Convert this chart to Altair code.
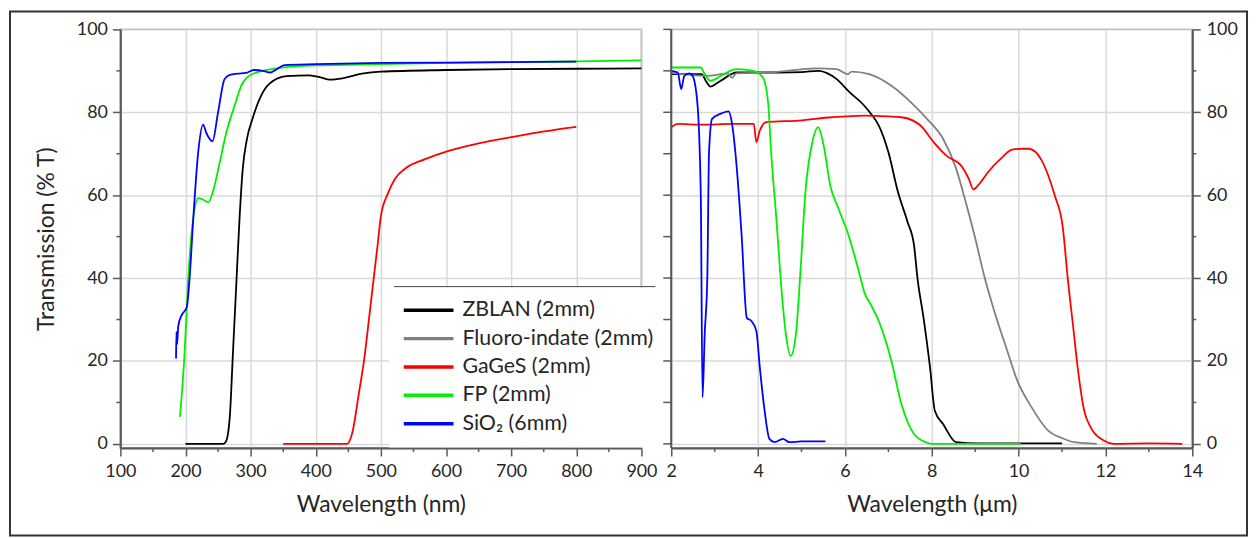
import altair as alt
import pandas as pd

# ---------------- data ----------------
NAMES = ["ZBLAN (2mm)", "Fluoro-indate (2mm)", "GaGeS (2mm)", "FP (2mm)", "SiO₂ (6mm)"]
COLORS = ["#000000", "#808080", "#ff0000", "#00ee00", "#0000ff"]

# left panel, wavelength in nm
zblan_nm = [200, 230, 258, 262, 268, 273, 278, 283, 288, 294, 303, 314, 329, 355, 390, 410, 421, 441, 471, 500, 600, 700, 800, 900]
zblan_nm_T = [0, 0, 0, 0.5, 6.5, 22.5, 38.5, 54.5, 66.5, 73.3, 78.5, 83.3, 86.9, 88.7, 88.9, 88.3, 87.9, 88.2, 89.3, 89.8, 90.2, 90.4, 90.5, 90.6]

gages_nm = [350, 400, 448, 456, 466, 474, 482, 489, 495, 500, 511, 522, 538, 568, 604, 650, 700, 751, 800]
gages_nm_T = [0, 0, 0, 2.6, 12, 20, 30.5, 40, 48, 55, 60.5, 64, 66.5, 68.7, 70.7, 72.5, 74, 75.4, 76.5]

fp_nm = [191.6, 199, 204, 212, 219.6, 227, 235, 242.4, 252.7, 263, 275.6, 285.8, 298.5, 319, 354.5, 400, 500, 600, 700, 800, 900]
fp_nm_T = [6.5, 23, 39.3, 54.5, 59.3, 58.9, 58.3, 61, 68, 75.3, 81.7, 86.5, 88.9, 90, 90.9, 91.3, 91.6, 91.9, 92.1, 92.3, 92.5]

sio2_nm = [185.5, 186, 187, 189, 194, 202, 206, 212, 219.6, 227, 232, 241.5, 250, 260, 268, 280, 293, 305, 319, 330, 339, 352, 400, 500, 600, 700, 800]
sio2_nm_T = [20.6, 27, 24, 28.5, 31, 33, 39.3, 54.5, 70.5, 77, 75, 73, 80, 88, 89, 89.3, 89.5, 90.2, 90, 89.6, 90.3, 91.4, 91.6, 91.9, 92.0, 92.1, 92.2]

# right panel, wavelength in um
zblan_um = [2.0, 2.7, 2.8, 2.9, 3.05, 3.2, 3.5, 4.5, 5.0, 5.4, 5.6, 5.81, 6.11, 6.41, 6.63, 6.78, 7.0, 7.22, 7.44, 7.59, 7.67, 7.81, 7.96, 8.07, 8.26, 8.56, 9.07, 10.0, 11.0]
zblan_um_T = [89.2, 89.2, 87.5, 86.2, 87.0, 88.0, 89.6, 89.6, 89.7, 90.0, 89.4, 88.0, 84.8, 82.0, 79.2, 76.8, 70.4, 60.8, 53.6, 48, 40, 30.4, 18.4, 8, 4.8, 0.4, 0.1, 0.1, 0.1]

fluoro_um = [2.0, 2.8, 3.3, 3.4, 3.5, 4.3, 5.34, 5.81, 6.07, 6.15, 6.56, 7.07, 7.52, 7.89, 8.26, 8.56, 8.78, 9.0, 9.22, 9.44, 9.74, 9.96, 10.3, 10.68, 11.0, 11.28, 11.8]
fluoro_um_T = [89.5, 88.8, 89.3, 88.3, 89.4, 89.6, 90.6, 90.4, 89.2, 89.8, 89.2, 86.4, 82.4, 78.4, 73.6, 66.4, 58.4, 49.6, 40, 32, 22.4, 15.5, 8.8, 3.2, 1.4, 0.4, 0]

gages_um = [2.0, 2.15, 2.68, 3.43, 3.9, 3.96, 4.04, 4.19, 4.94, 5.7, 6.45, 7.0, 7.3, 7.74, 8.04, 8.33, 8.7, 8.85, 8.96, 9.07, 9.3, 9.59, 9.85, 10.1, 10.23, 10.53, 10.68, 10.83, 11.02, 11.13, 11.25, 11.36, 11.51, 11.66, 11.96, 12.19, 13.0, 13.77]
gages_um_T = [76.4, 77.2, 77.0, 77.2, 77.2, 72.8, 75.6, 77.6, 78.0, 78.8, 79.2, 79.0, 78.8, 76.8, 72.8, 69.6, 66.8, 64.0, 61.4, 62.4, 65.6, 68.8, 71.0, 71.2, 71.2, 68.4, 64.8, 60, 52, 40, 28.8, 18.4, 8, 4, 0.8, 0, 0.1, 0]

fp_um = [2.0, 2.68, 2.75, 2.9, 3.21, 3.51, 3.89, 4.11, 4.23, 4.3, 4.42, 4.53, 4.64, 4.75, 4.87, 4.98, 5.09, 5.25, 5.38, 5.51, 5.66, 5.85, 6.08, 6.3, 6.45, 6.6, 6.78, 7.07, 7.3, 7.59, 7.89, 8.0, 10.05]
fp_um_T = [90.8, 90.8, 89.6, 87.6, 89.2, 90.4, 90.0, 88.4, 82.4, 70.4, 54.4, 38.4, 26.4, 21.2, 26.4, 42.4, 60.8, 72.8, 76.4, 72.0, 62.4, 56.8, 50.4, 42.4, 36.5, 33.5, 29.6, 20.0, 9.6, 2.4, 0.3, 0, 0]

sio2_um = [2.0, 2.15, 2.23, 2.3, 2.42, 2.49, 2.6, 2.68, 2.72, 2.77, 2.83, 2.87, 2.94, 3.13, 3.32, 3.4, 3.51, 3.62, 3.74, 3.85, 3.96, 4.04, 4.15, 4.26, 4.38, 4.57, 4.72, 5.0, 5.55]
sio2_um_T = [90, 89.6, 85.6, 88.8, 89.4, 88.8, 82.4, 60, 11.2, 26.4, 40, 70.4, 78.4, 79.6, 80.2, 77.2, 66.4, 50.4, 30.4, 29.6, 27.2, 18.4, 8, 1.2, 0.4, 1.2, 0.4, 0.6, 0.6]

# axis ticks
nm_major = [100, 200, 300, 400, 500, 600, 700, 800, 900]
nm_minor = [150, 250, 350, 450, 550, 650, 750, 850]
um_major = [2, 4, 6, 8, 10, 12, 14]
um_minor = [3, 5, 7, 9, 11, 13]
t_major = [0, 20, 40, 60, 80, 100]
t_minor = [10, 30, 50, 70, 90]
t_all = [0, 10, 20, 30, 40, 50, 60, 70, 80, 90, 100]


def frame(series_list):
    rows = []
    for name, xs, ys in series_list:
        for i, (a, b) in enumerate(zip(xs, ys)):
            rows.append({"series": name, "wl": a, "T": b, "i": i})
    return pd.DataFrame(rows)


left_df = frame([
    (NAMES[0], zblan_nm, zblan_nm_T),
    (NAMES[2], gages_nm, gages_nm_T),
    (NAMES[3], fp_nm, fp_nm_T),
    (NAMES[4], sio2_nm, sio2_nm_T),
])
right_df = frame([
    (NAMES[0], zblan_um, zblan_um_T),
    (NAMES[1], fluoro_um, fluoro_um_T),
    (NAMES[2], gages_um, gages_um_T),
    (NAMES[3], fp_um, fp_um_T),
    (NAMES[4], sio2_um, sio2_um_T),
])

W, H = 524, 421
FONT = "Lato"
DARK = "#595959"

yscale = alt.Scale(domain=[-1, 100], nice=False, zero=False)
xscale_l = alt.Scale(domain=[100, 900], nice=False, zero=False)
xscale_r = alt.Scale(domain=[2, 14], nice=False, zero=False)

xaxis_l = alt.Axis(values=nm_major, title="Wavelength (nm)", labelFlush=False,
                   labelOverlap=False, labelPadding=7, titlePadding=13)
xaxis_r = alt.Axis(values=um_major, title="Wavelength (μm)", labelFlush=False,
                   labelOverlap=False, labelPadding=7, titlePadding=13)
yaxis_l = alt.Axis(values=t_major, title="Transmission (% T)", labelPadding=5,
                   titlePadding=18, labelOverlap=False)
yaxis_r = alt.Axis(values=t_major, title=None, orient="right", labelPadding=6,
                   labelOverlap=False)

one = pd.DataFrame({"a": [0]})

legend = alt.Legend(
    orient="none", legendX=270, legendY=259.5, title=None,
    fillColor="white", padding=13, symbolType="stroke", symbolSize=2500,
    symbolStrokeWidth=3.5, clipHeight=20, rowPadding=6.5, labelOffset=7,
    labelFont=FONT, labelFontSize=21.5, labelColor="#262626", labelLimit=400,
)

left_lines = alt.Chart(left_df).mark_line(strokeWidth=1.8, interpolate="monotone").encode(
    x=alt.X("wl:Q", scale=xscale_l, axis=xaxis_l),
    y=alt.Y("T:Q", scale=yscale, axis=yaxis_l),
    color=alt.Color("series:N", scale=alt.Scale(domain=NAMES, range=COLORS), legend=legend),
    order="i:Q",
)

left_xminor = alt.Chart(pd.DataFrame({"wl": nm_minor})).mark_rule(color=DARK, strokeWidth=1.5).encode(
    x=alt.X("wl:Q", scale=xscale_l, axis=xaxis_l),
    y=alt.value(H), y2=alt.value(H + 4),
)
left_yminor = alt.Chart(pd.DataFrame({"T": t_minor})).mark_rule(color=DARK, strokeWidth=1.5).encode(
    y=alt.Y("T:Q", scale=yscale, axis=yaxis_l),
    x=alt.value(-4), x2=alt.value(0),
)
legend_top = alt.Chart(one).mark_rule(color=DARK, strokeWidth=1.5).encode(
    x=alt.value(275), x2=alt.value(538), y=alt.value(258.7))
legend_bot = alt.Chart(one).mark_rule(color=DARK, strokeWidth=1.5).encode(
    x=alt.value(275), x2=alt.value(538), y=alt.value(413.7))
border = alt.Chart(one).mark_rect(filled=False, stroke="#333333", strokeWidth=2).encode(
    x=alt.value(-111), x2=alt.value(1133), y=alt.value(-18), y2=alt.value(509))

left = alt.layer(left_lines, left_xminor, left_yminor, legend_top, legend_bot, border).properties(
    width=W, height=H)

right_lines = alt.Chart(right_df).mark_line(strokeWidth=1.8, interpolate="monotone").encode(
    x=alt.X("wl:Q", scale=xscale_r, axis=xaxis_r),
    y=alt.Y("T:Q", scale=yscale, axis=yaxis_r),
    color=alt.Color("series:N", scale=alt.Scale(domain=NAMES, range=COLORS), legend=None),
    order="i:Q",
)
right_xminor = alt.Chart(pd.DataFrame({"wl": um_minor})).mark_rule(color=DARK, strokeWidth=1.5).encode(
    x=alt.X("wl:Q", scale=xscale_r, axis=xaxis_r),
    y=alt.value(H), y2=alt.value(H + 4),
)
right_yminor = alt.Chart(pd.DataFrame({"T": t_minor})).mark_rule(color=DARK, strokeWidth=1.5).encode(
    y=alt.Y("T:Q", scale=yscale, axis=yaxis_r),
    x=alt.value(W), x2=alt.value(W + 4),
)
right_edge_ticks = alt.Chart(pd.DataFrame({"T": t_all})).mark_rule(color=DARK, strokeWidth=1.5).encode(
    y=alt.Y("T:Q", scale=yscale, axis=yaxis_r),
    x=alt.value(-8), x2=alt.value(0),
)
right_edge = alt.Chart(one).mark_rule(color=DARK, strokeWidth=2).encode(
    x=alt.value(0), y=alt.value(0), y2=alt.value(H))

right = alt.layer(right_lines, right_xminor, right_yminor, right_edge_ticks, right_edge).properties(
    width=W, height=H)

chart = alt.hconcat(left, right, spacing=30, bounds="flush").resolve_scale(
    color="independent").resolve_legend(color="independent").properties(
    padding=0, background="white"
).configure(font=FONT).configure_view(
    stroke="#808080", strokeWidth=1.5
).configure_axis(
    domainColor=DARK, domainWidth=2, tickColor=DARK, tickWidth=1.5, tickSize=8,
    grid=True, gridColor="#d9d9d9", gridWidth=1.5,
    labelFont=FONT, labelFontSize=18, labelColor="#262626",
    titleFont=FONT, titleFontSize=23, titleFontWeight="normal", titleColor="#262626",
)

chart.save("out.html", embed_options={"renderer": "svg", "actions": False})
